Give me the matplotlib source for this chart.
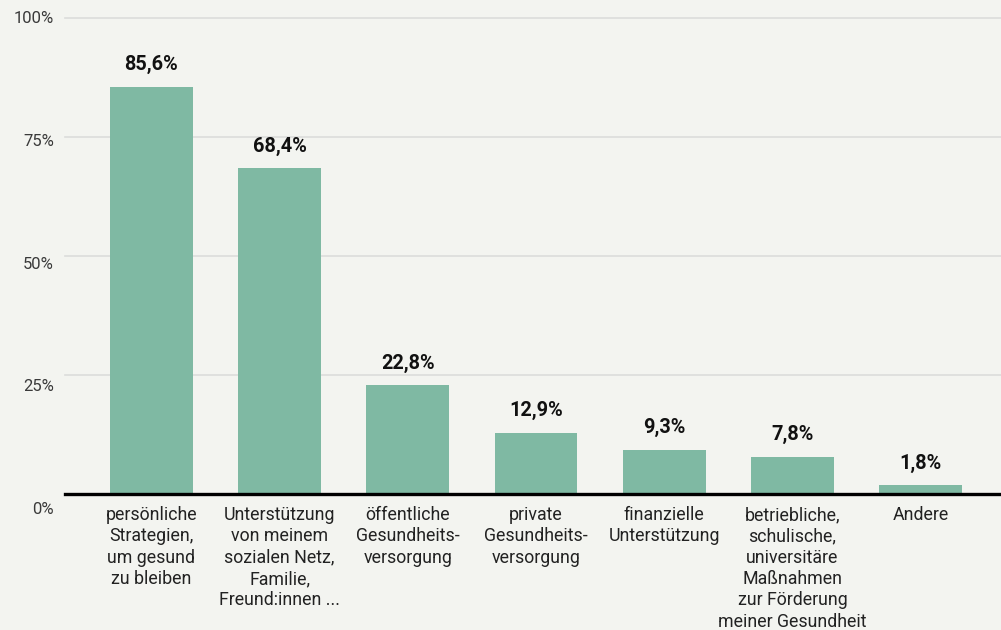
import matplotlib.pyplot as plt
from matplotlib.transforms import offset_copy, blended_transform_factory

plt.rcParams['font.family'] = ['Roboto', 'DejaVu Sans']

categories = [
    "persönliche\nStrategien,\num gesund\nzu bleiben",
    "Unterstützung\nvon meinem\nsozialen Netz,\nFamilie,\nFreund:innen ...",
    "öffentliche\nGesundheits-\nversorgung",
    "private\nGesundheits-\nversorgung",
    "finanzielle\nUnterstützung",
    "betriebliche,\nschulische,\nuniversitäre\nMaßnahmen\nzur Förderung\nmeiner Gesundheit",
    "Andere",
]
values = [85.6, 68.4, 22.8, 12.9, 9.3, 7.8, 1.8]
value_labels = ["85,6%", "68,4%", "22,8%", "12,9%", "9,3%", "7,8%", "1,8%"]
yticks = [0, 25, 50, 75, 100]
ytick_labels = ["0%", "25%", "50%", "75%", "100%"]

bg = '#f3f4f0'
bar_color = '#7fb9a3'

fig = plt.figure(figsize=(10.01, 6.30), dpi=100, facecolor=bg)
ax = fig.add_axes([0.0649, 0.2159, 0.9351, 0.7555])
ax.set_facecolor(bg)

x = list(range(len(values)))
ax.bar(x, values, width=0.647, color=bar_color, zorder=2)

ax.set_xlim(-0.674, 6.627)
ax.set_ylim(0, 100)

# gridlines
for t in yticks[1:]:
    ax.axhline(t, color='#dcdddb', linewidth=1.2, zorder=1, clip_on=False)
ax.axhline(0, color='black', linewidth=2.4, zorder=3, clip_on=False)

for s in ax.spines.values():
    s.set_visible(False)
ax.set_xticks([])
ax.set_yticks([])

# y labels, slightly shifted downward towards the bottom
trans = blended_transform_factory(fig.transFigure, ax.transData)
for t, lab in zip(yticks, ytick_labels):
    off = offset_copy(trans, fig=fig, x=0, y=-(1 - t / 100) * 16, units='dots')
    ax.text(54 / 1001, t, lab, transform=off, ha='right', va='center',
            fontsize=12, color='#3a3a3a')

# value labels
for xi, v, lab in zip(x, values, value_labels):
    off = offset_copy(ax.transData, fig=fig, x=0, y=22, units='dots')
    ax.text(xi, v, lab, transform=off, ha='center', va='center',
            fontsize=14.3, fontweight='bold', color='#111111')

# category labels
for xi, lab in zip(x, categories):
    off = offset_copy(ax.transData, fig=fig, x=0, y=-12, units='dots')
    ax.text(xi, 0, lab, transform=off, ha='center', va='top',
            fontsize=12.8, color='#222222', linespacing=1.24)

fig.savefig('out.png', dpi=100, facecolor=bg)
